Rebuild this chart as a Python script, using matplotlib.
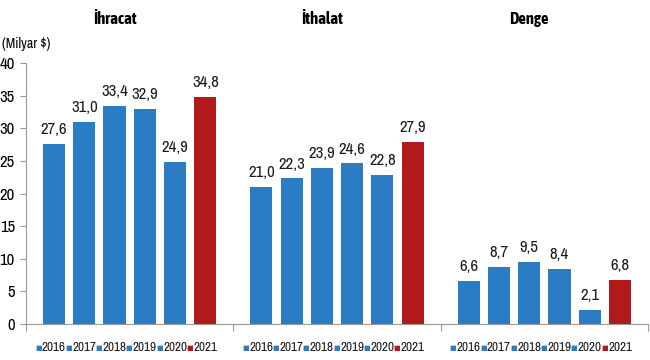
import matplotlib
matplotlib.use("Agg")
import matplotlib.pyplot as plt

plt.rcParams['font.family'] = ['Archivo Narrow', 'Liberation Sans', 'DejaVu Sans']

groups = ['İhracat', 'İthalat', 'Denge']
years = ['2016', '2017', '2018', '2019', '2020', '2021']
ihracat = [27.6, 31.0, 33.4, 32.9, 24.9, 34.8]
ithalat = [21.0, 22.3, 23.9, 24.6, 22.8, 27.9]
denge = [6.6, 8.7, 9.5, 8.4, 2.1, 6.8]
series = [ihracat, ithalat, denge]

blue = '#2a7dc4'
red = '#b01a1a'
colors = [blue] * 5 + [red]

GW = 6.85  # width of one group in slot units
fig = plt.figure(figsize=(6.5, 3.6), dpi=100)
ax = fig.add_axes([26 / 650, 36 / 360, 622 / 650, 261 / 360])

for g, vals in enumerate(series):
    x0 = g * GW + (GW - 6) / 2 + 0.5
    xs = [x0 + i for i in range(len(vals))]
    ax.bar(xs, vals, width=0.73, color=colors, edgecolor='none')
    for x, v in zip(xs, vals):
        ax.annotate(f'{v:.1f}'.replace('.', ','), (x, v), xytext=(0, 5),
                    textcoords='offset points', ha='center', va='bottom',
                    fontsize=12, color='#1a1a1a')
    # year labels below the axis
    for x, y, c in zip(xs, years, colors):
        ax.annotate('■', (x - 0.52, 0), xytext=(0, -17), textcoords='offset points',
                    ha='center', va='center', fontsize=5, color=c,
                    family='DejaVu Sans', annotation_clip=False)
        ax.annotate(y, (x, 0), xytext=(0, -17), textcoords='offset points',
                    ha='center', va='center', fontsize=9.5, color='#1a1a1a',
                    annotation_clip=False)
    ax.text(g * GW + GW / 2 - 0.5, 1.17, groups[g], transform=ax.get_xaxis_transform(),
            ha='center', va='center', fontsize=12, fontweight='bold',
            family=['Asap Condensed', 'Archivo Narrow', 'Liberation Sans'])

ax.set_xlim(0, 3 * GW)
ax.set_ylim(0, 40)
ax.set_yticks(range(0, 41, 5))
ax.set_xticks([0, GW, 2 * GW, 3 * GW])
ax.set_xticklabels([])
ax.tick_params(axis='x', length=5, color='#999999', direction='out')
ax.tick_params(axis='y', length=4, color='#999999', labelsize=12, pad=4)
for s in ['top', 'right']:
    ax.spines[s].set_visible(False)
for s in ['left', 'bottom']:
    ax.spines[s].set_color('#999999')

fig.text(2 / 650, 1 - 44 / 360, '(Milyar $)', fontsize=10, va='center', ha='left')

fig.savefig('out.png', dpi=100)
